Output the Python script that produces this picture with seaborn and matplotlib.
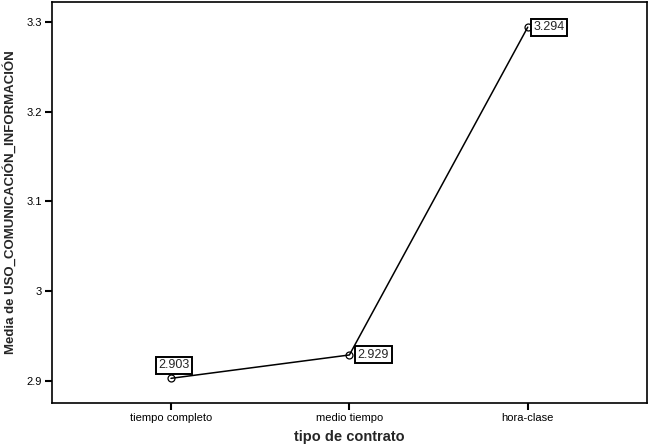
import matplotlib
matplotlib.use('Agg')
import matplotlib.pyplot as plt
import seaborn as sns
import pandas as pd

tipos = ['tiempo completo', 'medio tiempo', 'hora-clase']
medias = [2.903, 2.929, 3.294]
etiquetas = ['2.903', '2.929', '3.294']

df = pd.DataFrame({'tipo': tipos, 'media': medias})

sns.set_style('white')
plt.rcParams['font.family'] = ['Liberation Sans', 'DejaVu Sans']

fig = plt.figure(figsize=(6.5, 4.44), dpi=100)
ax = fig.add_axes([0.08, 0.0923, 0.915, 0.9032])

sns.pointplot(data=df, x='tipo', y='media', errorbar=None, color='black',
              markers='o', markersize=5, mfc='none', mec='black', mew=0.9,
              linewidth=1.1, ax=ax)

# posiciones de las etiquetas (offset en puntos)
offsets = [(2, 5), (6, 0), (4, 0)]
aligns = [('center', 'bottom'), ('left', 'center'), ('left', 'center')]
for i, (lab, off, al) in enumerate(zip(etiquetas, offsets, aligns)):
    ax.annotate(lab, (i, medias[i]), xytext=off, textcoords='offset points',
                ha=al[0], va=al[1], fontsize=9,
                bbox=dict(boxstyle='square,pad=0.2', fc='white', ec='black', lw=1.4))

ax.set_xlim(-0.667, 2.667)
ax.set_ylim(2.8755, 3.322)
ax.set_yticks([2.9, 3.0, 3.1, 3.2, 3.3])
ax.set_yticklabels(['2.9', '3', '3.1', '3.2', '3.3'])

for s in ax.spines.values():
    s.set_visible(True)
    s.set_color('black')
    s.set_linewidth(1.2)

ax.tick_params(axis='both', direction='out', length=5, width=1.5, colors='black',
               labelsize=8, pad=2, left=True, bottom=True)

ax.set_xlabel('tipo de contrato', fontsize=10.5, fontweight='bold', labelpad=5)
ax.set_ylabel('Media de USO_COMUNICACIÓN_INFORMACIÓN', fontsize=9.5,
              fontweight='bold', labelpad=7)

fig.savefig('out.png', dpi=100)
